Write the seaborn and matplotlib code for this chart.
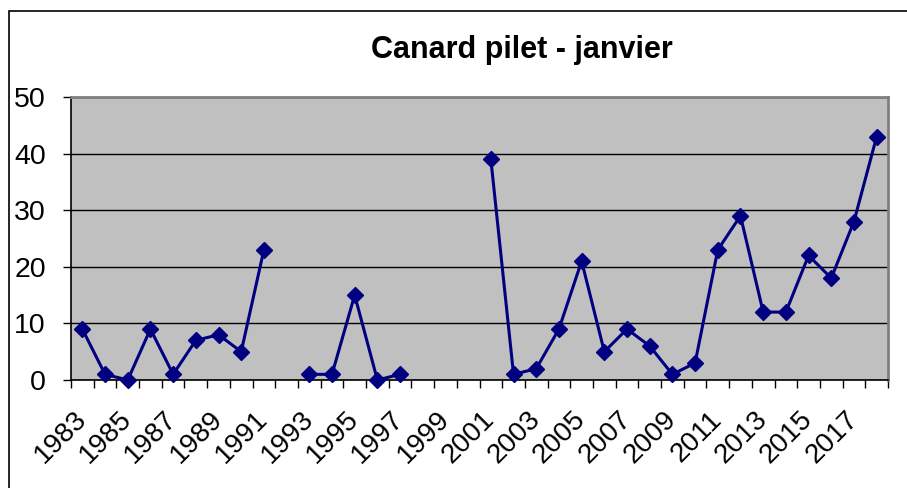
import numpy as np
import pandas as pd
import matplotlib
matplotlib.use('Agg')
import matplotlib.pyplot as plt
import matplotlib.transforms as mtransforms
from matplotlib.patches import Rectangle
from matplotlib.ticker import MultipleLocator
import seaborn as sns

# comptages janvier, années manquantes = NaN
years = list(range(1983, 2019))
counts = [9, 1, 0, 9, 1, 7, 8, 5, 23, np.nan,
          1, 1, 15, 0, 1, np.nan, np.nan, np.nan,
          39, 1, 2, 9, 21, 5, 9, 6, 1, 3,
          23, 29, 12, 12, 22, 18, 28, 43]
title = 'Canard pilet - janvier'

df = pd.DataFrame({'year': years, 'count': counts})
df['pos'] = np.arange(len(df))
# segments so the line breaks on missing years
df['seg'] = df['count'].isna().cumsum()
df = df.dropna()

sns.set_style('white')
plt.rcParams['font.family'] = ['Liberation Sans', 'DejaVu Sans']
plt.rcParams['text.color'] = 'black'
plt.rcParams['xtick.color'] = 'black'
plt.rcParams['ytick.color'] = 'black'

fig = plt.figure(figsize=(9.07, 4.88), dpi=100)
ax = fig.add_axes([71/907, 1-380/488, (888-71)/907, (380-97)/488])
ax.set_facecolor('#c0c0c0')

navy = '#000080'
sns.lineplot(data=df, x='pos', y='count', units='seg', estimator=None,
             color=navy, lw=2.2, marker='D', markersize=8,
             markeredgecolor=navy, markeredgewidth=1, ax=ax,
             clip_on=False, zorder=5)

ax.set_xlim(-0.5, len(years) - 0.5)
ax.set_ylim(0, 50)
ax.yaxis.set_major_locator(MultipleLocator(10))
ax.grid(axis='y', color='black', lw=1)
ax.set_axisbelow(True)

ax.set_xticks(np.arange(0, len(years), 2))
ax.set_xticklabels([str(y) for y in years[::2]], rotation=45,
                   ha='right', va='baseline', rotation_mode='anchor',
                   fontsize=20)
ax.set_xticks(np.arange(-0.5, len(years)), minor=True)
ax.tick_params(axis='x', which='major', length=0, pad=29)
ax.tick_params(axis='x', which='minor', length=6, width=1, color='black',
               direction='out', bottom=True)
ax.tick_params(axis='y', length=6, width=1, color='black', direction='out',
               left=True, pad=12, labelsize=20.5)
shift = mtransforms.ScaledTranslation(5/100, 0, fig.dpi_scale_trans)
for lab in ax.get_xticklabels():
    lab.set_transform(lab.get_transform() + shift)
ax.set_xlabel('')
ax.set_ylabel('')

for s in ['top', 'right']:
    ax.spines[s].set_color('#808080')
    ax.spines[s].set_linewidth(2)
for s in ['left', 'bottom']:
    ax.spines[s].set_color('black')
    ax.spines[s].set_linewidth(1.2)

fig.text(522/907, 1-50/488, title, ha='center', va='center',
         fontsize=22, fontweight='bold', color='black')

fig.patches.append(Rectangle((9/907, -0.1), 1.2, 1.1 - 11/488,
                             transform=fig.transFigure, fill=False,
                             edgecolor='black', lw=1.2))

fig.savefig('out.png', dpi=100, facecolor='white')
